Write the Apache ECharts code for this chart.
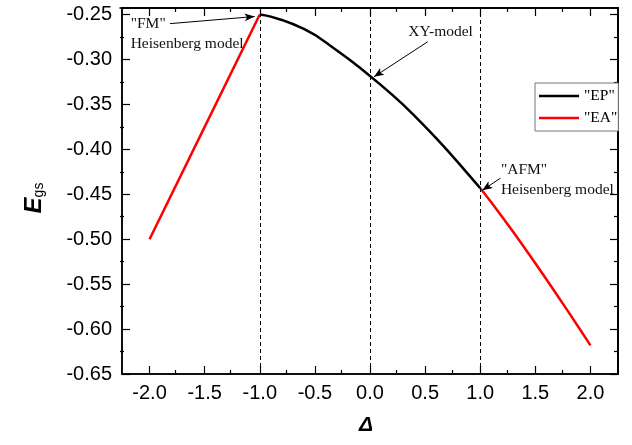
<!DOCTYPE html>
<html>
<head>
<meta charset="utf-8">
<script src="https://cdn.jsdelivr.net/npm/echarts@6/dist/echarts.min.js"></script>
<style>html,body{margin:0;padding:0;background:#fff;overflow:hidden;}#c{width:632px;height:445px;}</style>
</head>
<body>
<div id="c"></div>
<script>
// ---- data ----
const deltaEP  = [-1.0,-0.95,-0.9,-0.8,-0.7,-0.6,-0.5,-0.4,-0.3,-0.2,-0.1,0.0,0.1,0.2,0.3,0.4,0.5,0.6,0.7,0.8,0.9,1.0];
const energyEP = [-0.2500,-0.2509,-0.2523,-0.2560,-0.2605,-0.2660,-0.2725,-0.2810,-0.2899,-0.2989,-0.3084,-0.3183,-0.3285,-0.3391,-0.3503,-0.3623,-0.3747,-0.3876,-0.4009,-0.4147,-0.4289,-0.4431];
const deltaEALeft  = [-2.0,-1.5,-1.0];
const energyEALeft = [-0.500,-0.375,-0.250];
const deltaEARight  = [1.0,1.1,1.2,1.3,1.4,1.5,1.6,1.7,1.8,1.9,2.0];
const energyEARight = [-0.4431,-0.4589,-0.4752,-0.4920,-0.5092,-0.5267,-0.5445,-0.5626,-0.5809,-0.5994,-0.6181];
const xMajorTicks = [-2.0,-1.5,-1.0,-0.5,0.0,0.5,1.0,1.5,2.0];
const xMinorTicks = [-1.75,-1.25,-0.75,-0.25,0.25,0.75,1.25,1.75];
const yMajorTicks = [-0.65,-0.60,-0.55,-0.50,-0.45,-0.40,-0.35,-0.30,-0.25];
const yMinorTicks = [-0.625,-0.575,-0.525,-0.475,-0.425,-0.375,-0.325,-0.275];
const modelDeltas = [-1.0,0.0,1.0];
const seriesNames = ['"EP"','"EA"'];

const X_MIN=-2.25, X_MAX=2.25, Y_MIN=-0.65, Y_MAX=-0.2427;
const zip=(a,b)=>a.map((v,i)=>[v,b[i]]);
const gridRect={left:120,right:14,top:8,bottom:71};
const sans='"Liberation Sans", Arial, sans-serif';
const serif='"Liberation Serif", "Times New Roman", serif';

function xAx(grid,pos,ticks,len,labels,lineShow){
  return {type:'value',gridIndex:grid,position:pos,min:X_MIN,max:X_MAX,
    axisLine:{show:lineShow,onZero:false,lineStyle:{color:'#000',width:1.5}},
    axisTick:{show:true,inside:true,length:len,customValues:ticks,lineStyle:{color:'#000',width:1.2}},
    axisLabel:{show:labels,customValues:ticks,formatter:v=>v.toFixed(1),fontSize:20,fontFamily:sans,color:'#000',margin:9},
    splitLine:{show:false}};
}
function yAx(grid,pos,ticks,len,labels,lineShow){
  return {type:'value',gridIndex:grid,position:pos,min:Y_MIN,max:Y_MAX,
    axisLine:{show:lineShow,onZero:false,lineStyle:{color:'#000',width:pos==='right'?2:1.5}},
    axisTick:{show:true,inside:true,length:len,customValues:ticks,lineStyle:{color:'#000',width:1.2}},
    axisLabel:{show:labels,customValues:ticks,formatter:v=>v.toFixed(2),fontSize:20,fontFamily:sans,color:'#000',margin:10},
    splitLine:{show:false}};
}

const xAxes=[xAx(0,'bottom',xMajorTicks,8,true,true),xAx(0,'top',xMajorTicks,8,false,true),
             xAx(1,'bottom',xMinorTicks,4,false,false),xAx(1,'top',xMinorTicks,4,false,true)];
const yAxes=[yAx(0,'left',yMajorTicks,8,true,true),yAx(0,'right',yMajorTicks,8,false,true),
             yAx(1,'left',yMinorTicks,4,false,false),yAx(1,'right',yMinorTicks,4,false,true)];
xAxes[0].name='Δ'; xAxes[0].nameLocation='middle'; xAxes[0].nameGap=41; xAxes[0].nameMoveOverlap=false;
xAxes[0].nameTextStyle={fontSize:21,fontWeight:'bold',fontStyle:'italic',fontFamily:sans,color:'#000',padding:[0,8,0,0]};
yAxes[0].name='{e|E}{s|gs}'; yAxes[0].nameLocation='middle'; yAxes[0].nameRotate=90; yAxes[0].nameGap=76; yAxes[0].nameMoveOverlap=false;
yAxes[0].nameTextStyle={rich:{
  e:{fontSize:24,fontWeight:'bold',fontStyle:'italic',fontFamily:sans,color:'#000',verticalAlign:'top',lineHeight:24},
  s:{fontSize:14,fontFamily:sans,color:'#000',verticalAlign:'bottom',lineHeight:14,padding:[24,14,0,0]}
}};

const chart=echarts.init(document.getElementById('c'),null,{renderer:'canvas'});
chart.setOption({
  animation:false,
  backgroundColor:'#fff',
  grid:[Object.assign({show:true,borderColor:'#000',borderWidth:1.5,backgroundColor:'transparent'},gridRect),Object.assign({},gridRect)],
  xAxis:xAxes, yAxis:yAxes,
  legend:{data:seriesNames,orient:'vertical',left:535,top:83,itemWidth:40,itemHeight:14,itemGap:6,
    padding:[5,1,5,4],borderColor:'#777',borderWidth:1,backgroundColor:'#fff',
    icon:'path://M0 0H40V2.5H0Z',
    textStyle:{fontFamily:serif,fontSize:15.5,color:'#000'}},
  series:[
    {name:seriesNames[0],type:'line',xAxisIndex:0,yAxisIndex:0,data:zip(deltaEP,energyEP),
     symbol:'none',color:'#000',lineStyle:{color:'#000',width:2.5},z:3,
     markLine:{silent:true,symbol:['none','none'],label:{show:false},
       lineStyle:{color:'#000',width:1,type:[4,3]},
       data:modelDeltas.map(v=>({xAxis:v}))}},
    {name:seriesNames[1],type:'line',xAxisIndex:0,yAxisIndex:0,data:zip(deltaEALeft,energyEALeft),
     symbol:'none',color:'#f00',lineStyle:{color:'#f00',width:2.5},
     markLine:{silent:true,symbol:['none','arrow'],symbolSize:[6,10],label:{show:false},
       lineStyle:{color:'#000',width:1,type:'solid'},
       data:[
         [{coord:[-1.815,-0.2601]},{coord:[-1.047,-0.2522]}],
         [{coord:[0.524,-0.2802]},{coord:[0.036,-0.3193]}],
         [{coord:[1.183,-0.4321]},{coord:[1.02,-0.4455]}]
       ]}},
    {name:seriesNames[1],type:'line',xAxisIndex:0,yAxisIndex:0,data:zip(deltaEARight,energyEARight),
     symbol:'none',color:'#f00',lineStyle:{color:'#f00',width:2.5},
     markPoint:{silent:true,symbol:'circle',symbolSize:1,itemStyle:{color:'rgba(0,0,0,0)'},
       label:{show:true,position:'right',distance:0,formatter:'{b}',fontFamily:serif,fontSize:15.5,lineHeight:20,color:'#111',align:'left'},
       data:[
         {name:'"FM"\nHeisenberg model',coord:[-2.176,-0.2712]},
         {name:'XY-model',coord:[0.343,-0.269]},
         {name:'"AFM"\nHeisenberg model',coord:[1.183,-0.4344]}
       ]}}
  ]
});
</script>
</body>
</html>
